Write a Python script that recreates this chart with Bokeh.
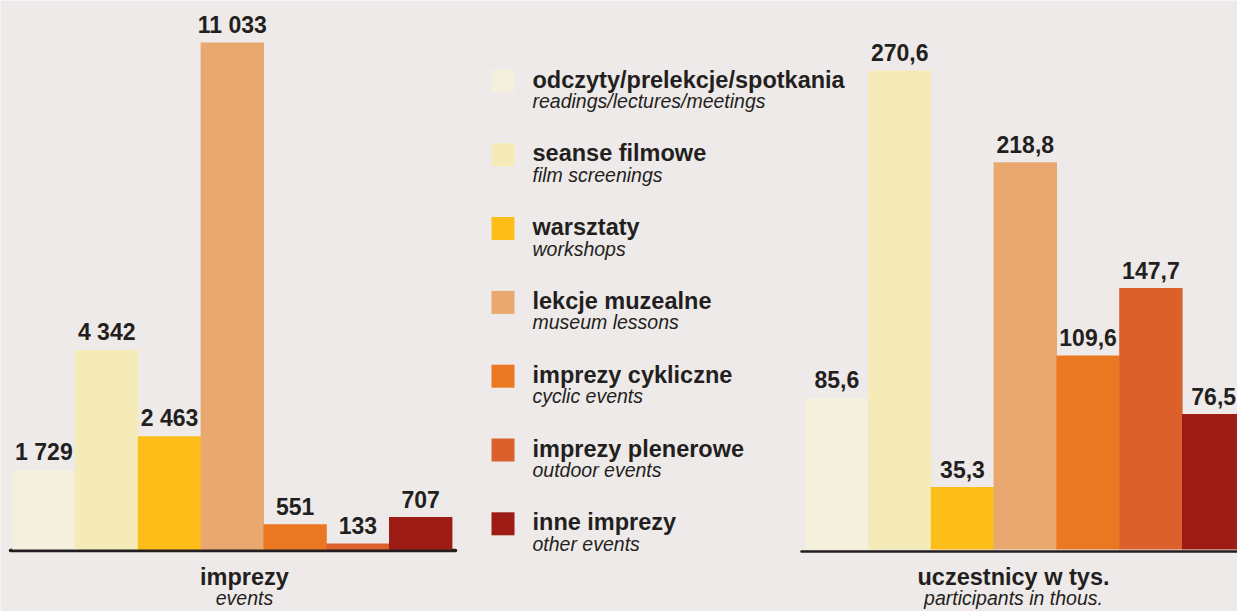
from bokeh.plotting import figure
from bokeh.models import Range1d
from bokeh.core.properties import value
from bokeh.embed import file_html
from bokeh.resources import INLINE

# ---------------- data ----------------
categories_pl = ["odczyty/prelekcje/spotkania", "seanse filmowe", "warsztaty",
                 "lekcje muzealne", "imprezy cykliczne", "imprezy plenerowe",
                 "inne imprezy"]
categories_en = ["readings/lectures/meetings", "film screenings", "workshops",
                 "museum lessons", "cyclic events", "outdoor events", "other events"]
events = [1729, 4342, 2463, 11033, 551, 133, 707]
participants = [85.6, 270.6, 35.3, 218.8, 109.6, 147.7, 76.5]
colors = ["#F5EFDE", "#F5EBB9", "#FDBE1A", "#E9A86F", "#EA7822", "#DC602C", "#9D1C15"]
titles_pl = ["imprezy", "uczestnicy w tys."]
titles_en = ["events", "participants in thous."]

# ---------------- layout helpers ----------------
BG = "#EEEAE9"
DARK = "#231F20"
FONT = value("Liberation Sans")
W, H = 1237, 611
TS = 8  # text baseline correction (px, upward)


def fx(rx):
    return rx


def fy(ry):
    return H - ry


def ft(ry):
    return H - ry + TS


p = figure(width=W, height=H, x_range=Range1d(0, W), y_range=Range1d(0, H),
           output_backend="svg", toolbar_location=None,
           x_axis_location=None, y_axis_location=None, min_border=0,
           background_fill_color=BG, border_fill_color=BG,
           outline_line_color=None)
p.grid.visible = False

# value scales (linear, zero at the baseline)
base_l, top_l = fy(549), fy(42)
k_l = (top_l - base_l) / max(events)
base_r, top_r = fy(549), fy(70)
k_r = (top_r - base_r) / max(participants)
p.extra_y_ranges = {
    "ev": Range1d(-base_l / k_l, (H - base_l) / k_l),
    "pp": Range1d(-base_r / k_r, (H - base_r) / k_r),
}

step = 62.8
n = len(events)
xs_l = [fx(12) + (i + 0.5) * step for i in range(n)]
xs_r = [fx(805) + (i + 0.5) * step for i in range(n)]

# baselines
p.segment(x0=[fx(10)], y0=[fy(550)], x1=[fx(455)], y1=[fy(550)],
          line_width=3.5, line_color=DARK, line_cap="round")
p.segment(x0=[fx(801)], y0=[fy(551)], x1=[W + 10], y1=[fy(551)],
          line_width=2.5, line_color=DARK, line_cap="round")

# bars
p.vbar(x=xs_l, top=events, bottom=0, width=step + 0.6, fill_color=colors,
       line_color=None, y_range_name="ev")
p.vbar(x=xs_r, top=participants, bottom=0, width=step + 0.6, fill_color=colors,
       line_color=None, y_range_name="pp")

# value labels
lab_l = [f"{v:,}".replace(",", " ") for v in events]
lab_r = [f"{v:.1f}".replace(".", ",") for v in participants]
p.text(x=xs_l, y=events, text=lab_l, y_range_name="ev", y_offset=-10 - TS,
       text_font=FONT, text_font_style="bold", text_font_size="23px",
       text_color=DARK, text_align="center", text_baseline="alphabetic")
p.text(x=xs_r, y=participants, text=lab_r, y_range_name="pp", y_offset=-10 - TS,
       text_font=FONT, text_font_style="bold", text_font_size="23px",
       text_color=DARK, text_align="center", text_baseline="alphabetic")

# legend
leg_step = 73.8
leg_c = [80.5 + i * leg_step for i in range(n)]  # square centres (from top)
p.rect(x=[fx(502.5)] * n, y=[fy(c) for c in leg_c], width=23, height=23,
       width_units="screen", height_units="screen",
       fill_color=colors, line_color=None)
p.text(x=[fx(532)] * n, y=[ft(c + 6.5) for c in leg_c], text=categories_pl,
       text_font=FONT, text_font_style="bold", text_font_size="23.5px",
       text_color=DARK, text_align="left", text_baseline="alphabetic")
p.text(x=[fx(532)] * n, y=[ft(c + 28) for c in leg_c], text=categories_en,
       text_font=FONT, text_font_style="italic", text_font_size="19.5px",
       text_color=DARK, text_align="left", text_baseline="alphabetic")

# chart titles
tx = [fx(244), fx(1013)]
p.text(x=tx, y=[ft(584)] * 2, text=titles_pl,
       text_font=FONT, text_font_style="bold", text_font_size="23.5px",
       text_color=DARK, text_align="center", text_baseline="alphabetic")
p.text(x=tx, y=[ft(605)] * 2, text=titles_en,
       text_font=FONT, text_font_style="italic", text_font_size="19.5px",
       text_color=DARK, text_align="center", text_baseline="alphabetic")

open("out.html", "w").write(file_html(p, INLINE))
